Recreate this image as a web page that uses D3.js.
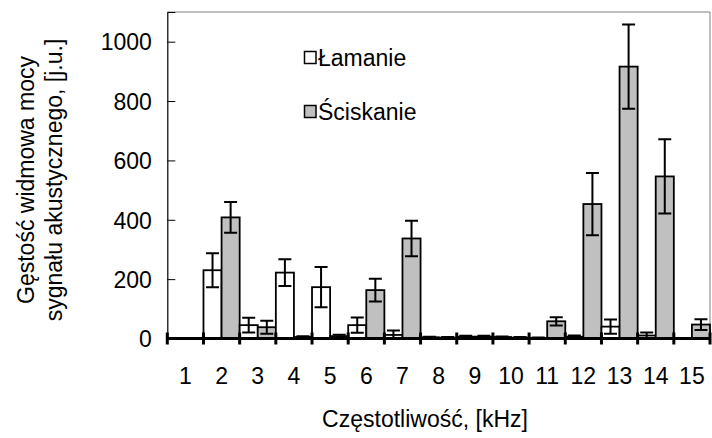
<!DOCTYPE html>
<html>
<head>
<meta charset="utf-8">
<script src="https://cdn.jsdelivr.net/npm/d3@7"></script>
<style>
  body { margin: 0; background: #fff; }
  svg text { font-family: Arial, "Liberation Sans", sans-serif; fill: #000; }
</style>
</head>
<body>
<div id="chart"></div>
<script>
// values
var categories = ["1","2","3","4","5","6","7","8","9","10","11","12","13","14","15"];
var lamanie      = [0, 230, 45, 222, 173, 45, 12, 4, 6, 5, 2, 6, 40, 10, 1];
var lamanieErr   = [0, 57, 25, 45, 68, 26, 15, 2, 3, 2, 1, 4, 24, 10, 1];
var sciskanie    = [0, 408, 38, 5, 8, 163, 337, 3, 6, 3, 58, 453, 916, 546, 47];
var sciskanieErr = [0, 52, 22, 3, 5, 38, 60, 2, 3, 2, 14, 105, 142, 125, 18];
var yTicks = [0, 200, 400, 600, 800, 1000];
var seriesNames = ["Łamanie", "Ściskanie"];
var seriesColors = ["#ffffff", "#c0c0c0"];

(function () {
  'use strict'

  var W = 712, H = 438;
  var fontSize = "23px";
  var margin = {top: 12, right: 2, bottom: 99.5, left: 167.3},
      width = W - margin.left - margin.right,
      height = H - margin.top - margin.bottom;

  var rows = categories.map(function(c, i){
    return {cat: c, vals: [
      {s: 0, v: lamanie[i], e: lamanieErr[i]},
      {s: 1, v: sciskanie[i], e: sciskanieErr[i]}
    ]};
  });

  var x = d3.scaleBand().domain(categories).range([0, width]).padding(0);
  var x1 = d3.scaleBand().domain([0, 1]).range([0, x.bandwidth()]).padding(0);
  var y = d3.scaleLinear().domain([0, 1100]).range([height, 0]);

  var svg = d3.select("#chart").append("svg")
      .attr("width", W)
      .attr("height", H)
    .append("g")
      .attr("transform", "translate(" + margin.left + "," + margin.top + ")");

  // plot area frame (top, right)
  svg.append("path")
    .attr("d", "M0,0H" + width + "V" + height)
    .attr("fill", "none")
    .attr("stroke", "#808080")
    .attr("stroke-width", 1);

  // y axis
  var yAxis = svg.append("g")
    .call(d3.axisLeft(y).tickValues(yTicks).tickFormat(d3.format("d")).tickSize(-8).tickPadding(15.5));
  yAxis.select(".domain").attr("stroke", "#000").attr("stroke-width", 1.2);
  yAxis.selectAll(".tick line").attr("stroke", "#000");
  yAxis.selectAll(".tick text").style("font-size", fontSize).attr("dy", "0.36em");

  // bars
  var grp = svg.selectAll(".cat")
    .data(rows)
    .enter().append("g")
    .attr("class", "cat")
    .attr("transform", function(d){ return "translate(" + x(d.cat) + ",0)"; });

  grp.selectAll("rect")
    .data(function(d){ return d.vals; })
    .enter().append("rect")
    .attr("x", function(d){ return x1(d.s); })
    .attr("y", function(d){ return y(d.v); })
    .attr("width", x1.bandwidth())
    .attr("height", function(d){ return y(0) - y(d.v); })
    .attr("fill", function(d){ return seriesColors[d.s]; })
    .attr("stroke", "#000")
    .attr("stroke-width", 1.8);

  // error bars
  var capW = 6.5;
  grp.selectAll(".err")
    .data(function(d){ return d.vals.filter(function(v){ return v.e > 0; }); })
    .enter().append("path")
    .attr("class", "err")
    .attr("fill", "none")
    .attr("stroke", "#000")
    .attr("stroke-width", 2)
    .attr("d", function(d){
      var cx = x1(d.s) + x1.bandwidth() / 2;
      var t = y(d.v + d.e), b = y(Math.max(0, d.v - d.e));
      return "M" + (cx - capW) + "," + t + "H" + (cx + capW) +
             "M" + cx + "," + t + "V" + b +
             "M" + (cx - capW) + "," + b + "H" + (cx + capW);
    });

  // x axis: thick line with category boundary ticks
  svg.append("line")
    .attr("x1", 0).attr("x2", width)
    .attr("y1", y(0)).attr("y2", y(0))
    .attr("stroke", "#000").attr("stroke-width", 3);

  var bounds = categories.map(function(c){ return x(c); }).concat([width]);
  svg.append("g").selectAll("line")
    .data(bounds)
    .enter().append("line")
    .attr("x1", function(d){ return d; })
    .attr("x2", function(d){ return d; })
    .attr("y1", y(0) - 6)
    .attr("y2", y(0) + 6)
    .attr("stroke", "#000")
    .attr("stroke-width", 3);

  var xAxis = svg.append("g")
    .attr("transform", "translate(0," + height + ")")
    .call(d3.axisBottom(x).tickSize(0).tickPadding(29));
  xAxis.select(".domain").remove();
  xAxis.selectAll(".tick text").style("font-size", fontSize);

  // axis titles
  svg.append("text")
    .attr("x", 425 - margin.left)
    .attr("y", 427 - margin.top)
    .attr("text-anchor", "middle")
    .style("font-size", fontSize)
    .text("Częstotliwość, [kHz]");

  var yTitle = svg.append("text")
    .attr("transform", "translate(" + (-margin.left) + "," + (180 - margin.top) + ") rotate(-90)")
    .attr("text-anchor", "middle")
    .style("font-size", fontSize);
  yTitle.append("tspan").attr("x", 0).attr("y", 34).text("Gęstość widmowa mocy");
  yTitle.append("tspan").attr("x", 0).attr("y", 62).text("sygnału akustycznego, [j.u.]");

  // legend
  var legend = svg.append("g")
    .attr("transform", "translate(" + (304.5 - margin.left) + "," + (51.5 - margin.top) + ")");
  var li = legend.selectAll("g")
    .data(seriesNames)
    .enter().append("g")
    .attr("transform", function(d, i){ return "translate(0," + (i * 54) + ")"; });
  li.append("rect")
    .attr("width", 11.5).attr("height", 12)
    .attr("fill", function(d, i){ return seriesColors[i]; })
    .attr("stroke", "#000")
    .attr("stroke-width", 1.5);
  li.append("text")
    .attr("x", 13.5)
    .attr("y", 14)
    .style("font-size", fontSize)
    .text(function(d){ return d; });
})()
</script>
</body>
</html>
